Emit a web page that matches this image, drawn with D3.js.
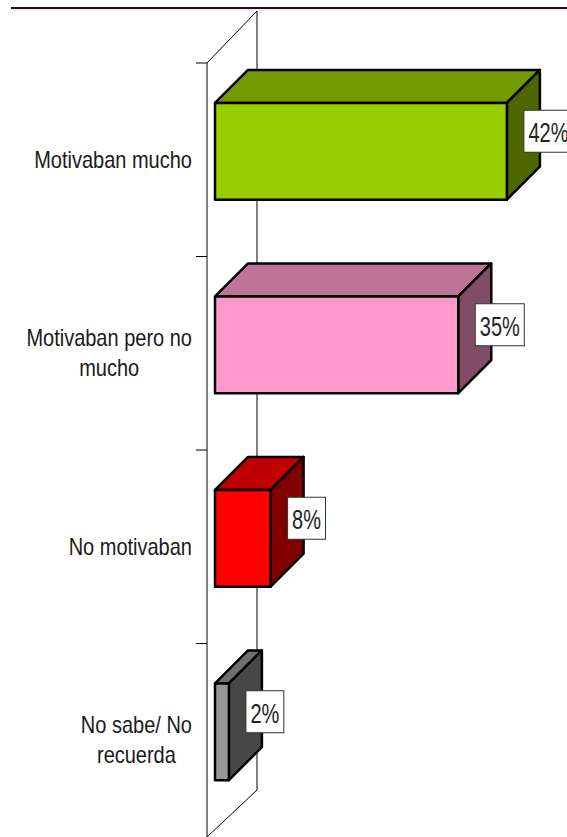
<!DOCTYPE html>
<html>
<head>
<meta charset="utf-8">
<script src="https://cdn.jsdelivr.net/npm/d3@7"></script>
<style>
  html, body { margin: 0; padding: 0; background: #fff; }
  svg { display: block; font-family: "Liberation Sans", Arial, sans-serif; }
</style>
</head>
<body>
<svg id="chart" width="567" height="837"></svg>
<script>
// data
var categories = ["Motivaban mucho", "Motivaban pero no mucho", "No motivaban", "No sabe/ No recuerda"];
var values = [42, 35, 8, 2];
var valueLabels = ["42%", "35%", "8%", "2%"];
var frontColors = ["#99cc00", "#ff99cc", "#ff0000", "#969696"];
var topColors = ["#739900", "#bf7399", "#c00000", "#707070"];
var sideColors = ["#4d6600", "#804c66", "#800000", "#474747"];

var svg = d3.select("#chart");
var width = +svg.attr("width");

// page rule at the top
svg.append("line").attr("x1", 11).attr("x2", width).attr("y1", 8).attr("y2", 8)
  .attr("stroke", "#1e101e").attr("stroke-width", 2);
svg.append("line").attr("x1", 11).attr("x2", width).attr("y1", 10).attr("y2", 10)
  .attr("stroke", "#ecd4e6").attr("stroke-width", 1);

var axisX = 207, depth = 33, wallDx = 50;

var y = d3.scaleBand()
  .domain(categories)
  .range([63, 837])
  .paddingInner(0.5)
  .paddingOuter(0.25);
var step = y.step();

var x = d3.scaleLinear().domain([0, 100]).range([215, 910]);

// 3d wall: front edge, back edge and the two diagonals
var wall = svg.append("g").attr("stroke", "#000").attr("stroke-width", 1).attr("fill", "none");
var top0 = 63, bottom0 = 837;
wall.append("line").attr("x1", axisX).attr("x2", axisX).attr("y1", top0).attr("y2", bottom0);
wall.append("line").attr("x1", axisX + wallDx).attr("x2", axisX + wallDx).attr("y1", 11).attr("y2", 790);
wall.append("line").attr("x1", axisX).attr("x2", axisX + wallDx).attr("y1", top0).attr("y2", 11);
wall.append("line").attr("x1", axisX + wallDx).attr("x2", axisX).attr("y1", 790).attr("y2", bottom0);

// tick marks at category boundaries
d3.range(categories.length).forEach(function (i) {
  var ty = top0 + i * step;
  wall.append("line").attr("x1", axisX - 11).attr("x2", axisX).attr("y1", ty).attr("y2", ty);
});

// bars
var bars = svg.append("g").attr("stroke", "#000").attr("stroke-width", 2.5).attr("stroke-linejoin", "round");
categories.forEach(function (c, i) {
  var x0 = x(0), x1 = x(values[i]);
  var y0 = y(c) - 8.5, y1 = y0 + y.bandwidth();
  bars.append("polygon")
    .attr("points", [[x0, y0], [x0 + depth, y0 - depth], [x1 + depth, y0 - depth], [x1, y0]].join(" "))
    .attr("fill", topColors[i]);
  bars.append("polygon")
    .attr("points", [[x1, y0], [x1 + depth, y0 - depth], [x1 + depth, y1 - depth], [x1, y1]].join(" "))
    .attr("fill", sideColors[i]);
  bars.append("rect")
    .attr("x", x0).attr("y", y0)
    .attr("width", x1 - x0).attr("height", y1 - y0)
    .attr("fill", frontColors[i]);
});

// value labels in white boxes
categories.forEach(function (c, i) {
  var x1 = x(values[i]);
  var cy = y(c) - 8.5 + y.bandwidth() / 2 - 20;
  var g = svg.append("g");
  var t = g.append("text")
    .attr("text-anchor", "middle")
    .attr("dominant-baseline", "central")
    .attr("font-size", 20)
    .attr("fill", "#222")
    .text(valueLabels[i]);
  var w = t.node().getComputedTextLength() + 9;
  var left = Math.max(x1 + depth - w / 2, x1 + 17);
  var cx = left + w / 2;
  g.insert("rect", "text")
    .attr("x", cx - w / 2).attr("y", cy - 21)
    .attr("width", w).attr("height", 42)
    .attr("fill", "#fff").attr("stroke", "#333").attr("stroke-width", 1);
  t.attr("transform", "translate(" + cx + "," + (cy + 1) + ") scale(1,1.4)");
});

// category labels, wrapped and right aligned to the axis
var labelRight = 192, maxLine = 170, lineGap = 30;
categories.forEach(function (c) {
  var words = c.split(" "), lines = [], cur = "";
  var probe = svg.append("text").attr("font-size", 20);
  var measure = function (s) { probe.text(s); return probe.node().getComputedTextLength(); };
  words.forEach(function (wd) {
    var next = cur ? cur + " " + wd : wd;
    if (cur && measure(next) > maxLine) { lines.push(cur); cur = wd; }
    else cur = next;
  });
  lines.push(cur);
  var maxW = d3.max(lines, measure);
  probe.remove();
  var cx = labelRight - maxW / 2;
  var cy = y(c) + y.bandwidth() / 2;
  lines.forEach(function (ln, j) {
    var ly = cy + (j - (lines.length - 1) / 2) * lineGap;
    svg.append("text")
      .attr("text-anchor", "middle")
      .attr("dominant-baseline", "central")
      .attr("font-size", 20)
      .attr("fill", "#1a1a1a")
      .attr("transform", "translate(" + cx + "," + ly + ") scale(1,1.17)")
      .text(ln);
  });
});
</script>
</body>
</html>
